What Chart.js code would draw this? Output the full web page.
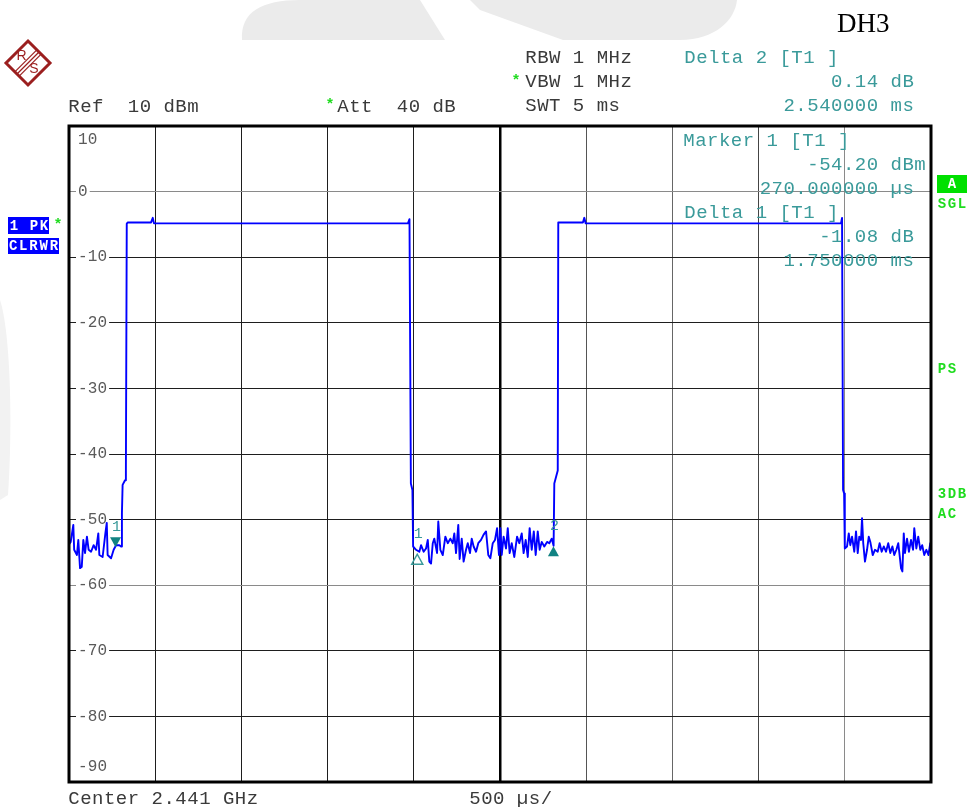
<!DOCTYPE html>
<html>
<head>
<meta charset="utf-8">
<script src="https://cdn.jsdelivr.net/npm/chart.js@4.4.1/dist/chart.umd.min.js"></script>
<style>
  html, body { margin: 0; padding: 0; background: #fff; }
  canvas { display: block; }
</style>
</head>
<body>
<canvas id="chart" width="971" height="807"></canvas>
<script>
// sweep trace, time in µs, level in dBm
const traceTime = [
  0, 10, 25, 30, 46, 54, 64, 74, 83, 93,
  104, 114, 128, 143, 157, 170, 176, 195, 211, 219,
  224, 244, 259, 273, 292, 302, 307, 311, 325, 330,
  335, 340, 476, 486, 493, 1966, 1975, 1983, 1992, 1996,
  2013, 2032, 2042, 2057, 2071, 2081, 2090, 2100, 2110, 2119,
  2135, 2142, 2154, 2168, 2183, 2197, 2212, 2226, 2235, 2245,
  2258, 2266, 2278, 2289, 2303, 2313, 2326, 2336, 2347, 2361,
  2374, 2390, 2405, 2419, 2432, 2444, 2458, 2471, 2483, 2494,
  2502, 2510, 2521, 2535, 2545, 2556, 2568, 2583, 2599, 2612,
  2626, 2637, 2649, 2661, 2672, 2684, 2696, 2707, 2719, 2730,
  2742, 2757, 2773, 2786, 2800, 2811,
  2815, 2825, 2835, 2838, 2845, 2981, 2989, 2997, 4478, 4484,
  4490, 4496, 4500,
  4513, 4523, 4532, 4542, 4555, 4565, 4575, 4584, 4594, 4600,
  4607, 4617, 4629, 4639, 4648, 4662, 4675, 4691, 4702, 4714,
  4726, 4739, 4752, 4764, 4776, 4787, 4799, 4810, 4820, 4826,
  4834, 4842, 4849, 4861, 4872, 4884, 4896, 4903, 4915, 4926,
  4938, 4949, 4961, 4973, 4985, 4996, 5000
];
const traceLevel = [
  -53.8, -53.4, -50.8, -54.6, -55.4, -53.1, -57.4, -57.2, -53.1, -55.1,
  -52.6, -54.6, -54.9, -53.9, -54.6, -52.1, -55.4, -55.7, -52.1, -50.5,
  -55.4, -55.9, -54.6, -53.9, -53.9, -54.1, -49.0, -44.7, -44.0, -42.5,
  -4.9, -4.7, -4.7, -4.0, -4.85, -4.85, -4.2, -44.5, -45.5, -54.1,
  -54.6, -54.9, -53.9, -54.9, -54.4, -53.1, -56.4, -56.7, -53.6, -52.9,
  -55.1, -50.3, -54.6, -55.4, -52.6, -53.6, -52.9, -53.6, -52.1, -55.1,
  -50.8, -56.0, -52.9, -56.4, -54.6, -53.6, -55.1, -52.9, -54.1, -54.9,
  -53.6, -53.1, -52.3, -51.8, -55.4, -55.9, -53.6, -53.1, -51.3, -55.4,
  -51.3, -55.4, -52.6, -54.4, -51.3, -55.1, -53.6, -55.7, -52.6, -53.6,
  -52.1, -55.1, -53.1, -55.7, -51.3, -54.6, -51.8, -55.4, -51.8, -54.6,
  -53.4, -54.1, -53.4, -53.6, -52.9, -54.0,
  -44.5, -43.5, -42.5, -4.7, -4.7, -4.7, -4.0, -4.85, -4.85, -4.0,
  -45.5, -46.0, -54.4,
  -54.1, -52.1, -53.9, -52.6, -54.9, -51.8, -55.1, -52.6, -53.1, -49.8,
  -53.6, -56.4, -54.6, -52.6, -53.4, -55.4, -54.6, -54.9, -53.6, -54.9,
  -54.1, -54.9, -53.6, -55.1, -54.1, -55.4, -54.6, -53.6, -55.9, -57.4,
  -57.9, -52.1, -55.1, -52.9, -54.9, -53.1, -54.6, -51.3, -54.4, -52.6,
  -54.6, -53.9, -55.4, -54.6, -55.4, -53.6, -54.2
];

const yTickLabels = ['10', '0', '-10', '-20', '-30', '-40', '-50', '-60', '-70', '-80', '-90'];
const yTickValues = [10, 0, -10, -20, -30, -40, -50, -60, -70, -80, -90];

// markers: 1 = marker, then delta 1, delta 2
const markerNames = ['1', '1', '2'];
const markerTime = [270, 2020, 2810];
const markerLevel = [-54.2, -55.28, -54.06];
const markerKind = ['down', 'upOpen', 'up'];

const TEAL = '#3a9a9a';
const TEAL_DARK = '#128282';
const GREEN = '#1fdc1f';
const INK = '#3a3a3a';
const MONO = '"Liberation Mono", monospace';

function mono(c, str, x, y, adv, align) {
  const x0 = align === 'right' ? x - str.length * adv : x;
  c.textAlign = 'center';
  c.textBaseline = 'middle';
  for (let i = 0; i < str.length; i++) {
    c.fillText(str[i], x0 + i * adv + adv / 2, y);
  }
}

function gridColorX(ctx) {
  const v = ctx.tick.value;
  if (v === 0 || v === 5000) return 'rgba(0,0,0,0)';
  if (v === 2500) return '#000';
  if (v < 2500) return '#1e1e1e';
  if (v === 3000) return '#555';
  if (v === 3500) return '#666';
  if (v === 4000) return '#444';
  return '#8a8a8a';
}
function gridColorY(ctx) {
  const v = ctx.tick.value;
  if (v === 10 || v === -90) return 'rgba(0,0,0,0)';
  if (v === 0 || v === -60) return '#8a8a8a';
  return '#1e1e1e';
}

const rsDecor = {
  id: 'rsDecor',
  beforeDraw(chart) {
    const c = chart.ctx;
    c.save();
    c.fillStyle = '#fff';
    c.fillRect(0, 0, chart.width, chart.height);
    // faint watermark shapes behind the screenshot
    c.fillStyle = '#ebebeb';
    c.beginPath();
    c.moveTo(242, 40);
    c.bezierCurveTo(240, 12, 262, 0, 300, 0);
    c.lineTo(420, 0);
    c.lineTo(445, 40);
    c.closePath();
    c.fill();
    c.beginPath();
    c.moveTo(480, 10);
    c.lineTo(563, 40);
    c.lineTo(680, 40);
    c.bezierCurveTo(715, 40, 735, 20, 737, 0);
    c.lineTo(470, 0);
    c.closePath();
    c.fill();
    c.fillStyle = '#f2f2f2';
    c.beginPath();
    c.moveTo(0, 300);
    c.bezierCurveTo(10, 330, 13, 420, 8, 495);
    c.lineTo(0, 500);
    c.closePath();
    c.fill();
    c.restore();
  },
  beforeDatasetsDraw(chart) {
    const c = chart.ctx;
    const y = chart.scales.y;
    const a = chart.chartArea;
    c.save();
    c.font = '16px ' + MONO;
    yTickValues.forEach((v, i) => {
      const label = yTickLabels[i];
      let py = y.getPixelForValue(v);
      if (v === 10) py += 14;
      if (v === -90) py -= 15;
      const x0 = a.left + 9;
      c.fillStyle = '#fff';
      c.fillRect(x0 - 2, py - 6, label.length * 9.7 + 4, 12);
      c.fillStyle = '#5a5a5a';
      mono(c, label, x0, py, 9.7, 'left');
    });
    c.restore();
  },
  afterDatasetsDraw(chart) {
    const c = chart.ctx;
    const a = chart.chartArea;
    const xs = chart.scales.x, ys = chart.scales.y;
    c.save();
    // markers
    markerTime.forEach((t, i) => {
      const px = xs.getPixelForValue(t);
      const py = ys.getPixelForValue(markerLevel[i]);
      c.beginPath();
      if (markerKind[i] === 'down') {
        c.moveTo(px - 5.5, py - 10);
        c.lineTo(px + 5.5, py - 10);
        c.lineTo(px, py);
      } else {
        c.moveTo(px, py);
        c.lineTo(px + 5.5, py + 10);
        c.lineTo(px - 5.5, py + 10);
      }
      c.closePath();
      if (markerKind[i] === 'upOpen') {
        c.strokeStyle = TEAL;
        c.lineWidth = 1.5;
        c.stroke();
      } else {
        c.fillStyle = TEAL_DARK;
        c.fill();
      }
      c.fillStyle = TEAL;
      c.font = '15px ' + MONO;
      c.textAlign = 'center';
      c.textBaseline = 'middle';
      c.fillText(markerNames[i], px + 1, py - 20);
    });
    // marker readouts inside the diagram
    c.font = '19px ' + MONO;
    c.fillStyle = TEAL;
    mono(c, 'Marker 1 [T1 ]', 683, 141, 11.9, 'left');
    mono(c, '-54.20 dBm', 926, 165, 11.9, 'right');
    mono(c, '270.000000 µs ', 926, 189, 11.9, 'right');
    mono(c, 'Delta 1 [T1 ]', 684, 213, 11.9, 'left');
    mono(c, '-1.08 dB ', 926, 237, 11.9, 'right');
    mono(c, '1.750000 ms ', 926, 261, 11.9, 'right');
    // thick frame
    c.strokeStyle = '#000';
    c.lineWidth = 3;
    c.strokeRect(a.left, a.top, a.right - a.left, a.bottom - a.top);
    c.restore();
  },
  afterDraw(chart) {
    const c = chart.ctx;
    c.save();
    // header
    c.font = '19px ' + MONO;
    c.fillStyle = INK;
    mono(c, 'Ref  10 dBm', 68, 107, 11.9, 'left');
    mono(c, 'Att  40 dB', 337, 107, 11.9, 'left');
    mono(c, 'RBW 1 MHz', 525, 58, 11.9, 'left');
    mono(c, 'VBW 1 MHz', 525, 82, 11.9, 'left');
    mono(c, 'SWT 5 ms', 525, 106, 11.9, 'left');
    mono(c, 'Center 2.441 GHz', 68, 799, 11.9, 'left');
    mono(c, '500 µs/', 469, 799, 11.9, 'left');
    c.fillStyle = TEAL;
    mono(c, 'Delta 2 [T1 ]', 684, 58, 11.9, 'left');
    mono(c, '0.14 dB ', 926, 82, 11.9, 'right');
    mono(c, '2.540000 ms ', 926, 106, 11.9, 'right');
    // green stars
    c.fillStyle = GREEN;
    c.font = 'bold 15px ' + MONO;
    c.textAlign = 'center';
    c.textBaseline = 'middle';
    c.fillText('*', 330, 105);
    c.fillText('*', 516, 81);
    c.fillText('*', 58, 225);
    // title
    c.fillStyle = '#000';
    c.font = '27px "Liberation Serif", serif';
    c.textAlign = 'left';
    c.textBaseline = 'middle';
    c.fillText('DH3', 837, 25);
    // trace info boxes
    c.fillStyle = '#0000ff';
    c.fillRect(8, 217, 41, 17);
    c.fillRect(8, 238, 51, 16);
    c.fillStyle = '#fff';
    c.font = 'bold 14px ' + MONO;
    mono(c, '1 PK', 9, 226, 10, 'left');
    mono(c, 'CLRWR', 8, 246.5, 10.2, 'left');
    // right side status
    c.fillStyle = '#00e000';
    c.fillRect(937, 175, 30, 18);
    c.fillStyle = '#fff';
    mono(c, 'A', 947, 184, 10, 'left');
    c.fillStyle = GREEN;
    mono(c, 'SGL', 937, 204, 10, 'left');
    mono(c, 'PS', 937, 369, 10, 'left');
    mono(c, '3DB', 937, 494, 10, 'left');
    mono(c, 'AC', 937, 514, 10, 'left');
    // R&S logo
    c.strokeStyle = '#9b1f1f';
    c.fillStyle = '#9b1f1f';
    c.lineWidth = 3;
    c.beginPath();
    c.moveTo(28, 41);
    c.lineTo(50, 63);
    c.lineTo(28, 85);
    c.lineTo(6, 63);
    c.closePath();
    c.stroke();
    c.lineWidth = 1.2;
    for (let k = -1; k <= 1; k++) {
      const o = k * 2.2;
      c.beginPath();
      c.moveTo(17 + o, 74 + o);
      c.lineTo(39 + o, 52 + o);
      c.stroke();
    }
    c.font = '14px "Liberation Sans", sans-serif';
    c.textAlign = 'center';
    c.textBaseline = 'middle';
    c.fillText('R', 21.5, 56);
    c.fillText('S', 34, 69.5);
    c.restore();
  }
};

const ctx = document.getElementById('chart').getContext('2d');
const chart = new Chart(ctx, {
  type: 'line',
  data: {
    datasets: [{
      data: traceTime.map((t, i) => ({ x: t, y: traceLevel[i] })),
      borderColor: '#0000ff',
      borderWidth: 1.9,
      borderJoinStyle: 'round',
      pointRadius: 0,
      tension: 0
    }]
  },
  options: {
    responsive: false,
    animation: false,
    layout: { padding: { left: 69, right: 40, top: 126, bottom: 25 } },
    plugins: { legend: { display: false }, tooltip: { enabled: false } },
    scales: {
      x: {
        type: 'linear', min: 0, max: 5000,
        ticks: { display: false, stepSize: 500 },
        grid: {
          drawTicks: false,
          color: gridColorX,
          lineWidth: (c) => c.tick.value === 2500 ? 2.5 : 1
        },
        border: { display: false }
      },
      y: {
        type: 'linear', min: -90, max: 10,
        ticks: { display: false, stepSize: 10 },
        grid: { drawTicks: false, color: gridColorY, lineWidth: 1 },
        border: { display: false }
      }
    }
  },
  plugins: [rsDecor]
});
</script>
</body>
</html>
